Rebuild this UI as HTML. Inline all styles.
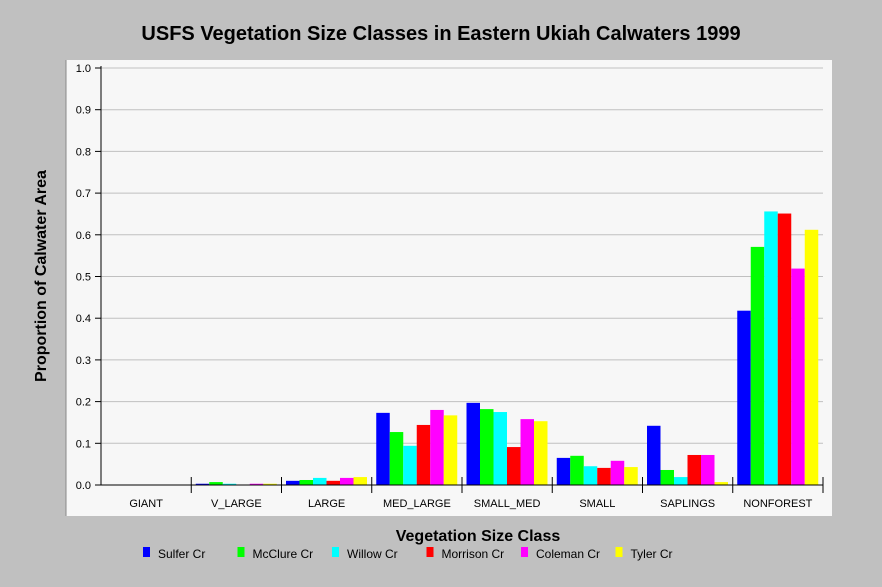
<!DOCTYPE html>
<html><head><meta charset="utf-8"><style>
body{margin:0;background:#c0c0c0;font-family:"Liberation Sans",sans-serif;}
svg text{font-family:"Liberation Sans",sans-serif;}
</style></head><body>
<svg width="882" height="582" xmlns="http://www.w3.org/2000/svg" id="chart">
<rect x="0" y="0" width="882" height="582" fill="#c0c0c0"/>
<rect x="66" y="60" width="766" height="456" fill="#f7f7f7"/>
<line x1="66" y1="60" x2="66" y2="516" stroke="#888"/>
<text x="441" y="40" text-anchor="middle" font-size="20" font-weight="bold">USFS Vegetation Size Classes in Eastern Ukiah Calwaters 1999</text>
<text x="478" y="541" text-anchor="middle" font-size="16" font-weight="bold">Vegetation Size Class</text>
<text transform="translate(46,276) rotate(-90)" text-anchor="middle" font-size="16" font-weight="bold">Proportion of Calwater Area</text>
<g id="grid"></g><g id="bars"></g><g id="axes"></g><g id="legend"></g>
</svg>
<script>
const categories=["GIANT","V_LARGE","LARGE","MED_LARGE","SMALL_MED","SMALL","SAPLINGS","NONFOREST"];
const seriesNames=["Sulfer Cr","McClure Cr","Willow Cr","Morrison Cr","Coleman Cr","Tyler Cr"];
const seriesColors=["#0000ff","#00ff00","#00ffff","#ff0000","#ff00ff","#ffff00"];
const sulfer=[0,0.003,0.01,0.173,0.197,0.065,0.142,0.418];
const mcclure=[0,0.007,0.012,0.127,0.182,0.07,0.036,0.571];
const willow=[0,0.003,0.017,0.094,0.175,0.045,0.019,0.656];
const morrison=[0,0,0.01,0.144,0.091,0.041,0.072,0.651];
const coleman=[0,0.003,0.017,0.18,0.158,0.058,0.072,0.519];
const tyler=[0,0.003,0.019,0.167,0.153,0.043,0.007,0.612];
const yTicks=["0.0","0.1","0.2","0.3","0.4","0.5","0.6","0.7","0.8","0.9","1.0"];
const series=[sulfer,mcclure,willow,morrison,coleman,tyler];
const NS="http://www.w3.org/2000/svg";
const x0=101,x1=823,yb=485,yt=68;
const gw=(x1-x0)/categories.length;
function y(v){return yb-(yb-yt)*v/1.0;}
function xg(i){return x0+gw*i;}
function mk(tag,attrs,parent){const e=document.createElementNS(NS,tag);for(const k in attrs)e.setAttribute(k,attrs[k]);document.getElementById(parent).appendChild(e);return e;}
yTicks.forEach((t,i)=>{const v=parseFloat(t);const yy=y(v);
 if(v>0){const g=mk("line",{x1:x0,x2:x1,y1:yy,y2:yy,stroke:"#c0c0c0","stroke-width":1},"grid");
 
 }
 const tk=mk("line",{x1:x0-6,x2:x0,y1:yy,y2:yy,stroke:"#000"},"axes");
 
 
 const tx=mk("text",{x:x0-10,y:yy+4,"text-anchor":"end","font-size":11},"axes");tx.textContent=t;
 
 
});
const bw=13.5;
series.forEach((s,si)=>{s.forEach((v,ci)=>{if(v<=0)return;
 const r=mk("rect",{x:xg(ci)+4.5+si*bw,y:y(v),width:bw,height:yb-y(v),fill:seriesColors[si]},"bars");
 
 
});});
const ya=mk("line",{x1:x0,x2:x0,y1:yt-2,y2:yb,stroke:"#000"},"axes");


const xa=mk("line",{x1:x0,x2:x1,y1:yb,y2:yb,stroke:"#000"},"axes");


categories.forEach((c,i)=>{
 const tk=mk("line",{x1:xg(i+1),x2:xg(i+1),y1:yb-8,y2:yb+8,stroke:"#000"},"axes");
 
 
 const t=mk("text",{x:xg(i)+gw/2,y:yb+22,"text-anchor":"middle","font-size":11},"axes");t.textContent=c;
 
 
});
seriesNames.forEach((n,i)=>{const lx=143+i*94.5;
 const r=mk("rect",{x:lx,y:547,width:7,height:10,fill:seriesColors[i]},"legend");
 
 
 const t=mk("text",{x:lx+15,y:558,"font-size":12},"legend");t.textContent=n;
 
 
});
</script>
</body></html>
